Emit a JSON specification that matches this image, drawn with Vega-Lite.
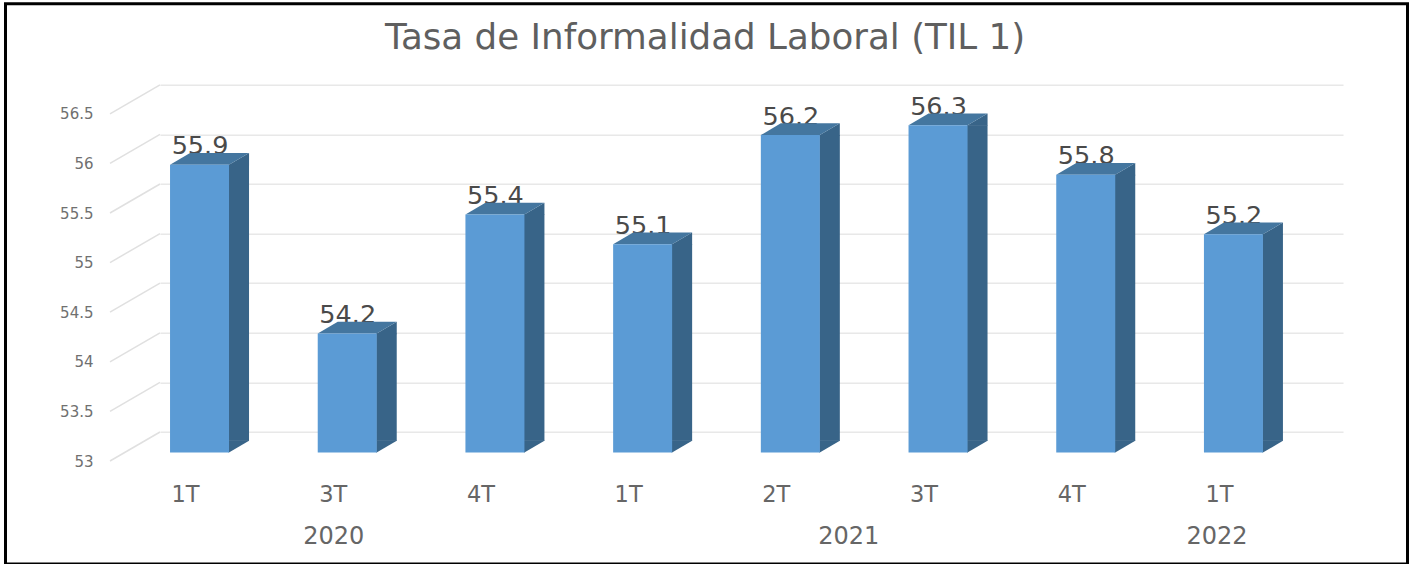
{
"$schema":"https://vega.github.io/schema/vega-lite/v6.json",
"autosize":"none","width":1183,"height":347.2,
"padding":{"left":160,"top":84.8,"right":70,"bottom":132},
"background":"white",
"config":{"view":{"stroke":null}},
"title":{"text":"Tasa de Informalidad Laboral (TIL 1)","anchor":"start","dx":381,"offset":-54,"font":"DejaVu Sans","fontSize":35.7,"fontWeight":"normal","color":"#5f5f5f"},
"datasets":{
"barras":[
{"periodo":"2020-1T","valor":55.9},{"periodo":"2020-3T","valor":54.2},{"periodo":"2020-4T","valor":55.4},{"periodo":"2021-1T","valor":55.1},{"periodo":"2021-2T","valor":56.2},{"periodo":"2021-3T","valor":56.3},{"periodo":"2021-4T","valor":55.8},{"periodo":"2022-1T","valor":55.2}],
"marcas":[{"t":53},{"t":53.5},{"t":54},{"t":54.5},{"t":55},{"t":55.5},{"t":56},{"t":56.5}]
},
"layer":[
{"data":{"name":"barras"},"mark":{"type":"rule","opacity":0},
 "encoding":{
  "x":{"field":"periodo","type":"nominal","sort":null,
   "scale":{"domain":["2020-1T","2020-3T","2020-4T","2021-1T","2021-2T","2021-3T","2021-4T","2022-1T"],"paddingInner":0.6,"paddingOuter":0.3047,"align":0.111},
   "axis":{"title":null,"labelExpr":"split(datum.label,'-')[1]","labelAngle":0,"domain":false,"ticks":false,"grid":false,"labelOffset":-14,"labelPadding":51,"labelFont":"DejaVu Sans","labelFontSize":22.5,"labelColor":"#666666"}},
  "y":{"field":"valor","type":"quantitative",
   "scale":{"domain":[53,56.5],"nice":false,"zero":false},
   "axis":{"title":null,"values":[53,53.5,54,54.5,55,55.5,56,56.5],"format":"~g","domain":false,"ticks":false,"grid":true,"gridColor":"#e8e8e8","gridWidth":1.6,"labelOffset":29,"labelPadding":67,"labelFont":"DejaVu Sans","labelFontSize":15,"labelColor":"#707070"}}
 }},
{"data":{"name":"marcas"},"mark":{"type":"point","shape":"M0,0L-50,29","size":4,"filled":false,"stroke":"#e0e0e0","strokeWidth":1.5,"opacity":1},
 "encoding":{"x":{"value":0},"y":{"field":"t","type":"quantitative"}}},
{"data":{"name":"barras"},"mark":{"type":"text","font":"DejaVu Sans","fontSize":25.5,"color":"#4a4a4a","baseline":"alphabetic","align":"center","dx":0.5,"dy":10},
 "encoding":{"x":{"field":"periodo","type":"nominal"},"y":{"field":"valor","type":"quantitative"},"text":{"field":"valor","type":"quantitative","format":".1f"}}},
{"data":{"name":"barras"},"mark":{"type":"bar","width":20.5,"xOffset":39.25,"yOffset":20.5,"y2Offset":8.8,"color":"#386488"},
 "encoding":{"x":{"field":"periodo","type":"nominal"},"y":{"field":"valor","type":"quantitative"},"y2":{"datum":53}}},
{"data":{"name":"barras"},"mark":{"type":"point","shape":"M29,20.8L49.5,8.8L49.5,21.2L29,21.2Z","size":4,"filled":true,"color":"#386488","strokeWidth":0,"opacity":1},
 "encoding":{"x":{"field":"periodo","type":"nominal"},"y":{"field":"valor","type":"quantitative"}}},
{"data":{"name":"barras"},"mark":{"type":"point","shape":"M29,20.8L49.5,8.8L49.5,8.2L29,8.2Z","size":4,"filled":true,"color":"#386488","strokeWidth":0,"opacity":1},
 "encoding":{"x":{"field":"periodo","type":"nominal"},"y":{"datum":53}}},
{"data":{"name":"barras"},"mark":{"type":"point","shape":"M-29.5,20.5L-9.5,8.8L49.5,8.8L29.5,20.5Z","size":4,"filled":true,"color":"#44769f","strokeWidth":0,"opacity":1},
 "encoding":{"x":{"field":"periodo","type":"nominal"},"y":{"field":"valor","type":"quantitative"}}},
{"data":{"name":"barras"},"mark":{"type":"bar","width":59,"yOffset":20.5,"y2Offset":20.5,"color":"#5b9bd5"},
 "encoding":{"x":{"field":"periodo","type":"nominal"},"y":{"field":"valor","type":"quantitative"},"y2":{"datum":53}}},
{"data":{"values":[{"anio":"2020","periodo":"2020-3T"}]},"mark":{"type":"text","font":"DejaVu Sans","fontSize":24,"color":"#666666","baseline":"alphabetic","align":"center","dx":-13.5,"dy":112},
 "encoding":{"x":{"field":"periodo","type":"nominal"},"y":{"datum":53},"text":{"field":"anio","type":"nominal"}}},
{"data":{"values":[{"anio":"2021","periodo":"2021-2T"}]},"mark":{"type":"text","font":"DejaVu Sans","fontSize":24,"color":"#666666","baseline":"alphabetic","align":"center","dx":58.5,"dy":112},
 "encoding":{"x":{"field":"periodo","type":"nominal"},"y":{"datum":53},"text":{"field":"anio","type":"nominal"}}},
{"data":{"values":[{"anio":"2022","periodo":"2022-1T"}]},"mark":{"type":"text","font":"DejaVu Sans","fontSize":24,"color":"#666666","baseline":"alphabetic","align":"center","dx":-16.5,"dy":112},
 "encoding":{"x":{"field":"periodo","type":"nominal"},"y":{"datum":53},"text":{"field":"anio","type":"nominal"}}},
{"data":{"values":[{"marco":"borde"}]},"mark":{"type":"rect","fill":null,"stroke":"#000000","strokeWidth":3},
 "encoding":{"x":{"value":-154.5},"x2":{"value":1247.5},"y":{"value":-81},"y2":{"value":479.2}}}
]
}
